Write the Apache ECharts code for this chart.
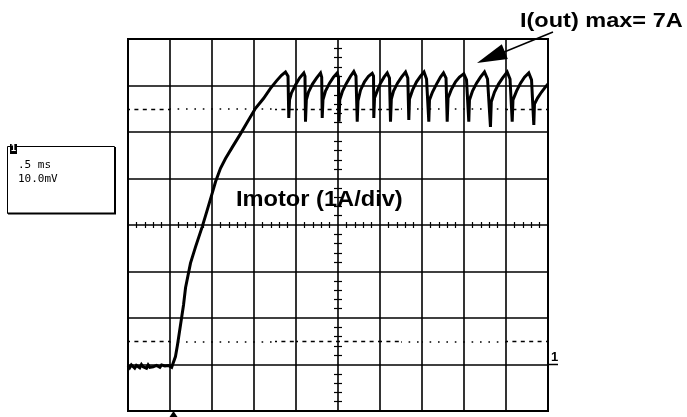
<!DOCTYPE html>
<html>
<head>
<meta charset="utf-8">
<script src="https://cdn.jsdelivr.net/npm/echarts@6/dist/echarts.min.js"></script>
<style>
html,body{margin:0;padding:0;background:#fff;}
#chart{width:687px;height:417px;}
</style>
</head>
<body>
<div id="chart"></div>
<script>
// Time axis: 0.5 ms/div, 10 divisions
const timeTicksMs = [0, 0.5, 1, 1.5, 2, 2.5, 3, 3.5, 4, 4.5, 5];
// Current axis: 1 A/div, 8 divisions (ground marker at 0 A)
const currentTicksA = [-1, 0, 1, 2, 3, 4, 5, 6, 7];

// Imotor trace (time in ms, current in A)
const timeMs = [
  0.00,0.02,0.04,0.06,0.08,0.10,0.12,0.14,0.16,0.18,0.20,0.22,0.24,0.26,
  0.28,0.30,0.32,0.34,0.36,0.38,0.40,0.42,0.44,0.46,0.48,0.50,0.52,0.54,
  0.565,0.589,0.625,0.661,0.685,0.744,0.804,0.883,0.943,1.002,1.042,1.101,1.161,
  1.244,1.339,1.423,1.518,1.613,1.696,1.768,1.827,1.875,
  1.905,1.914,1.923,1.946,1.994,2.042,2.093,
  2.107,2.113,2.123,2.149,2.196,2.244,2.292,
  2.306,2.312,2.321,2.351,2.399,2.446,2.490,
  2.506,2.512,2.521,2.554,2.601,2.649,2.688,
  2.714,2.729,2.738,2.768,2.815,2.863,2.907,
  2.923,2.926,2.935,2.970,3.006,3.048,3.086,
  3.113,3.125,3.135,3.161,3.208,3.256,3.304,
  3.331,3.343,3.351,3.387,3.435,3.482,3.524,
  3.554,3.581,3.589,3.625,3.673,3.720,3.756,
  3.786,3.800,3.810,3.851,3.899,3.946,3.998,
  4.030,4.057,4.065,4.101,4.149,4.196,4.244,
  4.280,4.315,4.325,4.363,4.411,4.458,4.514,
  4.548,4.574,4.583,4.625,4.673,4.720,4.771,
  4.804,4.831,4.839,4.875,4.923,4.970,5.000
];
const currentA = [
  -0.02,-0.07,-0.01,-0.05,-0.08,-0.02,-0.04,-0.07,0.00,-0.05,-0.03,-0.08,-0.01,-0.06,
  -0.03,-0.05,-0.09,-0.02,-0.04,-0.06,-0.01,-0.05,-0.03,-0.07,-0.02,-0.04,-0.06,-0.03,
  0.17,0.42,0.85,1.28,1.65,2.18,2.53,2.96,3.32,3.68,3.93,4.22,4.43,
  4.68,4.96,5.22,5.51,5.72,5.94,6.10,6.22,6.29,
  6.20,5.30,5.69,5.84,6.01,6.16,6.27,
  6.20,5.22,5.69,5.86,6.03,6.16,6.27,
  6.18,5.30,5.69,5.88,6.05,6.18,6.27,
  6.18,5.22,5.69,5.88,6.05,6.20,6.30,
  6.20,5.22,5.67,5.90,6.08,6.20,6.26,
  6.20,5.30,5.73,5.90,6.05,6.18,6.27,
  6.16,5.22,5.71,5.88,6.05,6.18,6.29,
  6.16,5.26,5.71,5.90,6.08,6.20,6.29,
  6.14,5.22,5.69,5.86,6.03,6.18,6.27,
  6.16,5.22,5.73,5.92,6.08,6.18,6.25,
  6.12,5.22,5.69,5.88,6.05,6.18,6.29,
  6.14,5.11,5.65,5.86,6.03,6.16,6.29,
  6.14,5.22,5.69,5.88,6.05,6.18,6.27,
  6.12,5.15,5.60,5.73,5.86,5.97,6.03
];

// dotted cursor levels (A) and the dash style per division
const guideLevelsA = [0.5, 5.5];
const guidePattern = ['dash','dot','dot','dotdash','dash','dash','dashdot','dot','dot','dash'];

const traceData = timeMs.map((t, i) => [t, currentA[i]]);

const DASH = {type:[4,4.4], dashOffset:2, color:'#000', width:1.3};
const DOT = {type:[1.6,6.8], dashOffset:0.8, color:'#000', width:1.6};
const guideLines = [];
guideLevelsA.forEach(level => {
  guidePattern.forEach((p, d) => {
    const x0 = timeTicksMs[d], x1 = timeTicksMs[d + 1], xm = (x0 + x1) / 2;
    const segs = p === 'dash' ? [[x0, x1, DASH]] :
                 p === 'dot' ? [[x0, x1, DOT]] :
                 p === 'dotdash' ? [[x0, xm, DOT], [xm, x1, DASH]] :
                 [[x0, xm, DASH], [xm, x1, DOT]];
    segs.forEach(s => guideLines.push([{coord:[s[0], level], lineStyle:s[2]}, {coord:[s[1], level]}]));
  });
});

const chart = echarts.init(document.getElementById('chart'), null, {renderer:'canvas'});
const gridW = 420, gridH = 372;
const hidden = {show:false};
const baseX = {type:'value', min:timeTicksMs[0], max:timeTicksMs[timeTicksMs.length-1], interval:0.5};
const baseY = {type:'value', min:currentTicksA[0], max:currentTicksA[currentTicksA.length-1], interval:1};
const centerTick = (len, inside) => ({
  axisLine:hidden, axisLabel:hidden, splitLine:hidden,
  axisTick:{show:false, inside:inside, length:len},
  minorTick:{show:true, splitNumber:5, length:len, lineStyle:{color:'#000', width:1.2}}
});

chart.setOption({
  animation:false,
  backgroundColor:'#fff',
  grid:{left:128, top:39, width:gridW, height:gridH, show:true, borderColor:'#000', borderWidth:2, backgroundColor:'#fff'},
  xAxis:[
    Object.assign({}, baseX, {axisLine:hidden, axisTick:hidden, axisLabel:hidden,
      splitLine:{show:true, lineStyle:{color:'#000', width:1.6}}}),
    Object.assign({}, baseX, {position:'bottom', offset:-gridH/2}, centerTick(3, false)),
    Object.assign({}, baseX, {position:'bottom', offset:-gridH/2}, centerTick(3, true))
  ],
  yAxis:[
    Object.assign({}, baseY, {axisLine:hidden, axisTick:hidden, axisLabel:hidden,
      splitLine:{show:true, lineStyle:{color:'#000', width:1.6}}}),
    Object.assign({}, baseY, {position:'left', offset:-gridW/2}, centerTick(4, false)),
    Object.assign({}, baseY, {position:'left', offset:-gridW/2}, centerTick(4, true))
  ],
  series:[{
    type:'line', name:'Imotor', xAxisIndex:0, yAxisIndex:0,
    data:traceData, showSymbol:false, symbol:'none', smooth:false,
    lineStyle:{color:'#000', width:3, join:'miter'},
    z:5,
    markLine:{silent:true, symbol:'none', label:{show:false}, animation:false, data:guideLines}
  }],
  graphic:[
    // scope settings box
    {type:'rect', shape:{x:7.5, y:146.5, width:107, height:67}, style:{fill:'#fff', stroke:'#000', lineWidth:1}},
    {type:'line', shape:{x1:115, y1:147, x2:115, y2:214}, style:{stroke:'#000', lineWidth:2}},
    {type:'line', shape:{x1:8, y1:213.5, x2:116, y2:213.5}, style:{stroke:'#000', lineWidth:2}},
    {type:'rect', shape:{x:10, y:144, width:7, height:10}, style:{fill:'#000'}},
    {type:'text', x:13.5, y:149, style:{text:'1', font:'bold 9px "DejaVu Sans Mono"', fill:'#fff', align:'center', verticalAlign:'middle'}},
    {type:'text', x:18, y:165, style:{text:'.5 ms', font:'11px "DejaVu Sans Mono"', fill:'#000', verticalAlign:'middle'}},
    {type:'text', x:18, y:179, style:{text:'10.0mV', font:'11px "DejaVu Sans Mono"', fill:'#000', verticalAlign:'middle'}},
    // annotations
    {type:'text', x:236, y:200, scaleX:1.074, z:100, style:{text:'Imotor (1A/div)', font:'bold 22px "Liberation Sans"', fill:'#000', verticalAlign:'middle'}},
    {type:'text', x:520, y:21, scaleX:1.12, z:100, style:{text:'I(out) max= 7A', font:'bold 21px "Liberation Sans"', fill:'#000', verticalAlign:'middle'}},
    {type:'line', z:100, shape:{x1:553, y1:32, x2:503, y2:52.5}, style:{stroke:'#000', lineWidth:1.5}},
    {type:'polygon', z:100, shape:{points:[[477,63],[501.8,44.3],[507.8,59.1]]}, style:{fill:'#000'}},
    // channel ground marker (right) and trigger marker (bottom)
    {type:'text', x:551, y:357, z:100, style:{text:'1', font:'bold 13px "Liberation Sans"', fill:'#000', verticalAlign:'middle'}},
    {type:'line', z:100, shape:{x1:547, y1:364.5, x2:558, y2:364.5}, style:{stroke:'#000', lineWidth:1.5}},
    {type:'polygon', z:100, shape:{points:[[173.5,411],[169.5,417],[177.5,417]]}, style:{fill:'#000'}}
  ]
});
</script>
</body>
</html>
